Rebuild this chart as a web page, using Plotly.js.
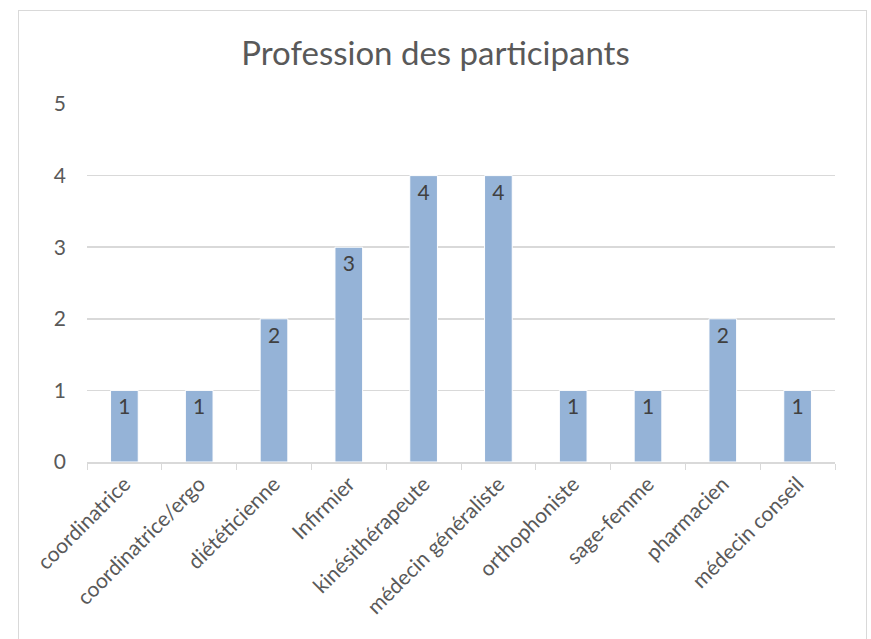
<!DOCTYPE html>
<html><head><meta charset="utf-8">
<script src="https://cdn.plot.ly/plotly-3.0.1.min.js"></script>
<style>
html,body{margin:0;padding:0;background:#fff;}
#wrap{position:relative;width:871px;height:639px;}
#chart{width:871px;height:639px;}
#frame{position:absolute;left:18px;top:10px;width:847px;height:640px;border:1px solid #D9D9D9;pointer-events:none;}
</style></head>
<body><div id="wrap"><div id="chart"></div><div id="frame"></div></div>
<script>
const categories = ["coordinatrice","coordinatrice/ergo","diététicienne","Infirmier","kinésithérapeute","médecin généraliste","orthophoniste","sage-femme","pharmacien","médecin conseil"];
const counts = [1,1,2,3,4,4,1,1,2,1];
const yTicks = [0,1,2,3,4,5];
const titleText = "Profession des participants";

const font = "Lato, 'Open Sans', sans-serif";
Plotly.newPlot('chart', [{
  type:'bar', x:categories, y:counts,
  text:counts.map(String), textposition:'inside', insidetextanchor:'end',
  textfont:{family:font,size:21,color:'#404040'},
  marker:{color:'#95B3D7', line:{color:'#ffffff',width:1}},
  width:0.37, hoverinfo:'none'
}], {
  width:871, height:639,
  margin:{l:87,r:36,t:104,b:177},
  paper_bgcolor:'#fff', plot_bgcolor:'#fff',
  showlegend:false,
  title:{text:titleText, x:0.5, xanchor:'center', y:0.917, yanchor:'middle',
         font:{family:font,size:33,color:'#595959'}},
  xaxis:{type:'category', tickangle:-45, tickson:'boundaries', ticks:'outside', ticklen:6,
         tickcolor:'#D9D9D9', showline:true, linecolor:'#D9D9D9', linewidth:1.5,
         showgrid:false, tickfont:{family:font,size:21,color:'#595959'}},
  yaxis:{range:[0,5], tickvals:yTicks, showgrid:true, gridcolor:'#D9D9D9', gridwidth:1.5,
         zeroline:false, showline:false, ticks:'', ticklabelstandoff:20,
         tickfont:{family:font,size:21,color:'#595959'}}
}, {displayModeBar:false, staticPlot:true});
</script></body></html>
